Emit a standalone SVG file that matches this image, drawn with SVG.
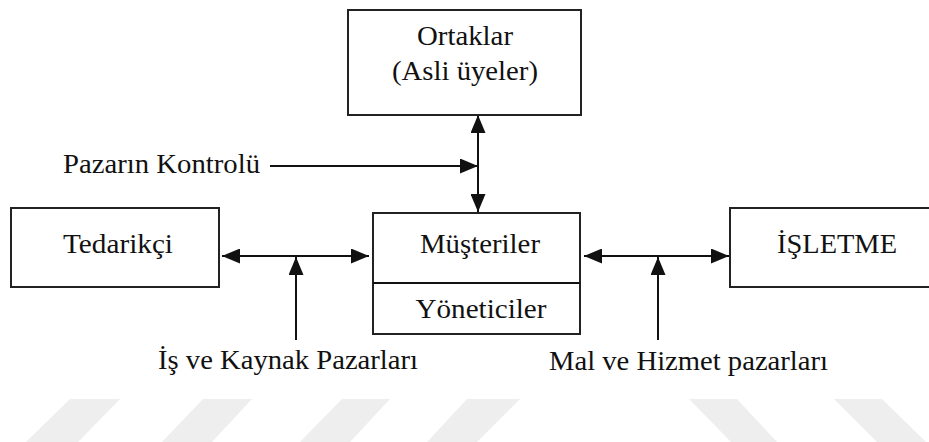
<svg xmlns="http://www.w3.org/2000/svg" width="929" height="442" viewBox="0 0 929 442">
<style>
.box{fill:#fff;stroke:#222;stroke-width:2}
.ln{stroke:#111;stroke-width:2;fill:none}
.t{font-family:"Liberation Serif","Times New Roman",serif;font-size:28px;fill:#111;text-anchor:middle}
.tl{font-family:"Liberation Serif","Times New Roman",serif;font-size:28px;fill:#111}
.wm{fill:#eeeeee}
</style>
<defs>
<marker id="ah" markerUnits="userSpaceOnUse" markerWidth="18" markerHeight="15" refX="18" refY="7.5" orient="auto-start-reverse" viewBox="0 0 18 15">
<path d="M0,0 L18,7.5 L0,15 z" fill="#111"/>
</marker>
</defs>
<rect width="929" height="442" fill="#fff"/>
<g id="watermark">
<polygon class="wm" points="70,399 120,399 78,442 26,442"/>
<polygon class="wm" points="203,399 252,399 212,442 162,442"/>
<polygon class="wm" points="342,399 390,399 350,442 300,442"/>
<polygon class="wm" points="467,399 520,399 477,442 427,442"/>
<polygon class="wm" points="689,399 737,399 777,442 731,442"/>
<polygon class="wm" points="834,399 882,399 926,442 877,442"/>
</g>
<g id="connectors">
<line class="ln" x1="478" y1="115" x2="478" y2="212" marker-start="url(#ah)" marker-end="url(#ah)"/>
<line class="ln" x1="270" y1="166" x2="478" y2="166" marker-end="url(#ah)"/>
<line class="ln" x1="222" y1="256" x2="369" y2="256" marker-start="url(#ah)" marker-end="url(#ah)"/>
<line class="ln" x1="296" y1="340" x2="296" y2="257" marker-end="url(#ah)"/>
<line class="ln" x1="584" y1="256" x2="729" y2="256" marker-start="url(#ah)" marker-end="url(#ah)"/>
<line class="ln" x1="658" y1="340" x2="658" y2="257" marker-end="url(#ah)"/>
</g>
<g id="ortaklar">
<rect class="box" x="348" y="10" width="233" height="105"/>
<text class="t" x="465" y="45" textLength="96" lengthAdjust="spacingAndGlyphs">Ortaklar</text>
<text class="t" x="465" y="80" textLength="146" lengthAdjust="spacingAndGlyphs">(Asli üyeler)</text>
</g>
<g id="tedarikci">
<rect class="box" x="11" y="208" width="208" height="79"/>
<text class="t" x="118" y="253" textLength="110" lengthAdjust="spacingAndGlyphs">Tedarikçi</text>
</g>
<g id="musteriler">
<rect class="box" x="373" y="213" width="207" height="121"/>
<line class="ln" x1="373" y1="283" x2="580" y2="283"/>
<text class="t" x="480" y="253" textLength="120" lengthAdjust="spacingAndGlyphs">Müşteriler</text>
<text class="t" x="481" y="318" textLength="131" lengthAdjust="spacingAndGlyphs">Yöneticiler</text>
</g>
<g id="isletme">
<rect class="box" x="730" y="208" width="205" height="79"/>
<text class="t" x="837" y="253" textLength="120" lengthAdjust="spacingAndGlyphs">İŞLETME</text>
</g>
<g id="labels">
<text class="tl" x="63" y="173" textLength="197" lengthAdjust="spacingAndGlyphs">Pazarın Kontrolü</text>
<text class="tl" x="158" y="369" textLength="260" lengthAdjust="spacingAndGlyphs">İş ve Kaynak Pazarları</text>
<text class="tl" x="549" y="370" textLength="279" lengthAdjust="spacingAndGlyphs">Mal ve Hizmet pazarları</text>
</g>
</svg>
